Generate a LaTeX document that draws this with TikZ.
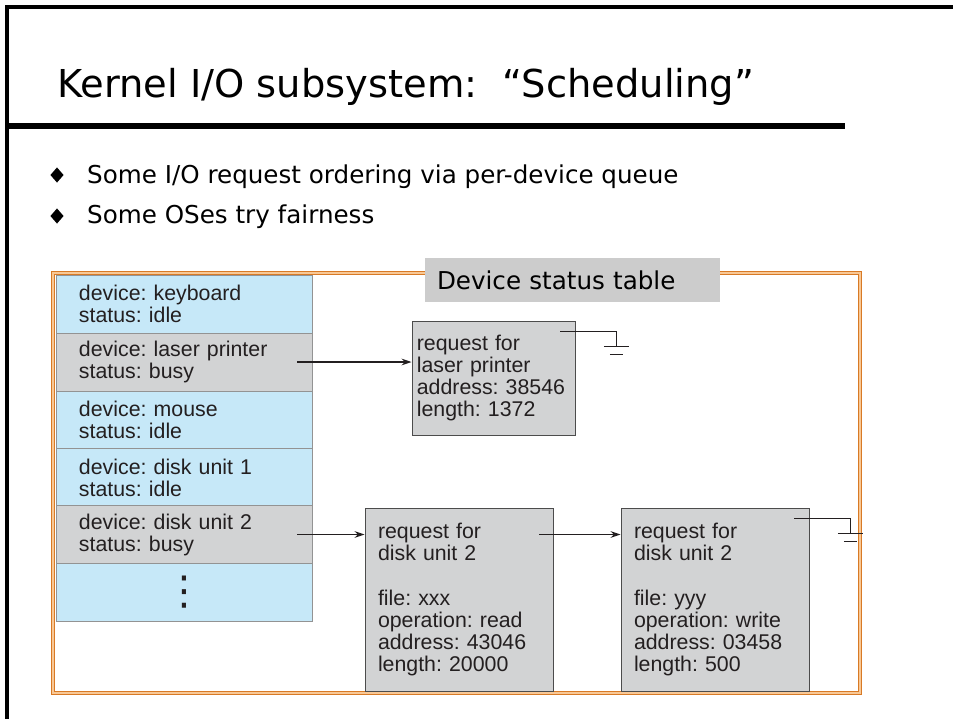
\documentclass[tikz,border=0pt]{standalone}
\usepackage{fontspec}
\setmainfont{Liberation Sans}
\newfontfamily\slidefont{DejaVu Sans}
\usetikzlibrary{positioning, arrows.meta, shapes.geometric, calc}

\definecolor{rowblue}{RGB}{198,232,248}
\definecolor{rowgray}{RGB}{210,211,212}
\definecolor{labelgray}{RGB}{204,204,204}
\definecolor{framebrown}{RGB}{216,122,38}
\definecolor{framelight}{RGB}{248,200,150}
\definecolor{inkgray}{RGB}{35,31,32}

\begin{document}
\frenchspacing
\begin{tikzpicture}[x=0.03cm, y=-0.03cm,
    row/.style={rectangle, draw=gray!85, line width=0.6pt, minimum width=7.68cm,
                minimum height=1.734cm, text width=6.3cm, inner xsep=0.69cm,
                align=left, font=\fontsize{18.2}{18.8}\selectfont, text=inkgray},
    request/.style={rectangle, draw=gray!60!black, fill=rowgray, line width=0.8pt,
                align=left, font=\fontsize{18.2}{18.8}\selectfont, text=inkgray},
    tablelabel/.style={rectangle, fill=labelgray, minimum width=8.85cm, minimum height=1.32cm,
                text width=8.13cm, inner xsep=0.36cm, align=left,
                font=\slidefont\fontsize{21}{25}\selectfont},
    bullet/.style={diamond, fill=black, inner sep=0pt, minimum width=0.4cm, minimum height=0.46cm},
    slidetext/.style={font=\slidefont\fontsize{21}{25}\selectfont, inner sep=0pt, anchor=base west},
    arrow/.style={-{Stealth[length=3mm, width=2mm]}, line width=1.3pt, draw=inkgray},
    wire/.style={line width=1.5pt, draw=inkgray}
]
    \useasboundingbox (0,0) rectangle (953,719);

    % Slide border and title
    \draw[line width=2.6pt] (953,7) -- (7,7) -- (7,719);
    \node[slidetext, font=\slidefont\fontsize{32.8}{38}\selectfont] (title) at (57, 97)
        {Kernel I/O subsystem:\ \ “Scheduling”};
    \draw[line width=5pt] (7,126) -- (845,126);

    % Bullets
    \node[bullet] (b1) at (57, 175) {};
    \node[slidetext] (t1) at (87, 183) {Some I/O request ordering via per-device queue};
    \node[bullet] (b2) at (57, 216) {};
    \node[slidetext] (t2) at (87, 223) {Some OSes try fairness};

    % Frame
    \draw[draw=framebrown, double=framelight, line width=1.2pt, double distance=1pt]
        (53,273) rectangle (860,693);
    \node[tablelabel] (dst) at (572.5, 280) {Device status table};

    % Device status table
    \node[row, fill=rowblue] (kbd) at (184, 304) {device: keyboard\\status: idle};
    \node[row, fill=rowgray] (prn) at (184, 362) {device: laser printer\\status: busy};
    \node[row, fill=rowblue] (mouse) at (184, 420) {device: mouse\\status: idle};
    \node[row, fill=rowblue] (dsk1) at (184, 477.5) {device: disk unit 1\\status: idle};
    \node[row, fill=rowgray] (dsk2) at (184, 534.5) {device: disk unit 2\\status: busy};
    \node[row, fill=rowblue, align=center, font=\slidefont\fontsize{34}{34}\selectfont] (more)
        at (184, 592.5) {⋮};

    % Requests
    \node[request, minimum width=4.89cm, minimum height=3.42cm, text width=4.6cm,
          inner xsep=0.145cm] (lp) at (493.5, 378)
        {request for\\laser printer\\address: 38546\\length: 1372};
    \node[request, minimum width=5.64cm, minimum height=5.49cm, text width=4.86cm,
          inner xsep=0.39cm] (rq1) at (459, 599.5)
        {request for\\disk unit 2\\[18.8pt]file: xxx\\operation: read\\address: 43046\\length: 20000};
    \node[request, minimum width=5.64cm, minimum height=5.49cm, text width=4.86cm,
          inner xsep=0.39cm] (rq2) at (715, 599.5)
        {request for\\disk unit 2\\[18.8pt]file: yyy\\operation: write\\address: 03458\\length: 500};

    % Arrows
    \draw[arrow] ([xshift=-0.45cm]prn.east) -- (prn.east -| lp.west);
    \draw[arrow] ([xshift=-0.45cm]dsk2.east) -- (dsk2.east -| rq1.west);
    \draw[arrow] ([xshift=-0.42cm]rq1.east |- dsk2.east) -- (dsk2.east -| rq2.west);

    % Ground ends
    \coordinate (gnd1) at ($(lp.north east)+(41,26)$);
    \draw[wire] ([xshift=-0.45cm, yshift=-0.33cm]lp.north east) -| (gnd1);
    \draw[wire] ([xshift=-0.38cm]gnd1) -- ([xshift=0.38cm]gnd1);
    \draw[wire] ([xshift=-0.2cm, yshift=-0.24cm]gnd1) -- ([xshift=0.2cm, yshift=-0.24cm]gnd1);

    \coordinate (gnd2) at ($(rq2.north east)+(41,26)$);
    \draw[wire] ([xshift=-0.45cm, yshift=-0.33cm]rq2.north east) -| (gnd2);
    \draw[wire] ([xshift=-0.38cm]gnd2) -- ([xshift=0.38cm]gnd2);
    \draw[wire] ([xshift=-0.2cm, yshift=-0.24cm]gnd2) -- ([xshift=0.2cm, yshift=-0.24cm]gnd2);

\end{tikzpicture}
\end{document}
